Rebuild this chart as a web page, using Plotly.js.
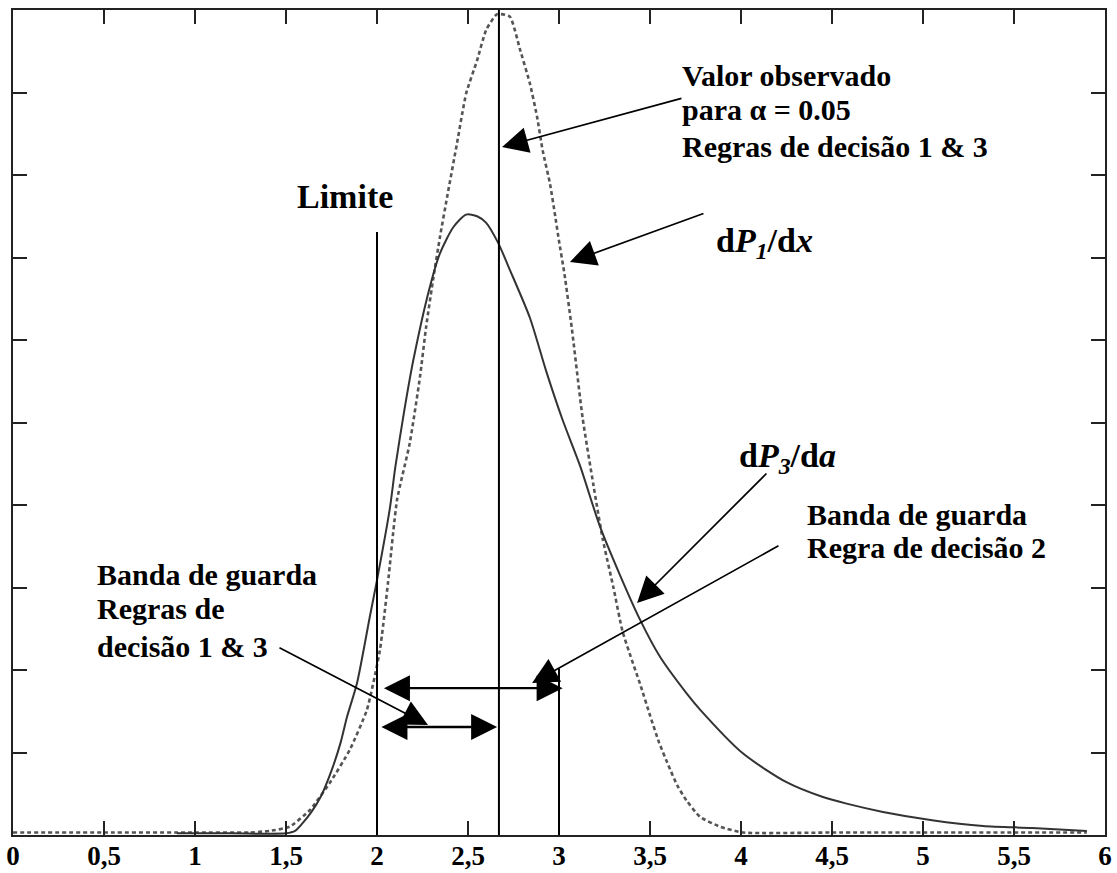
<!DOCTYPE html>
<html>
<head>
<meta charset="utf-8">
<script src="https://cdn.plot.ly/plotly-3.0.1.min.js"></script>
<style>html,body{margin:0;padding:0;background:#fff;}#chart{width:1117px;height:873px;}</style>
</head>
<body>
<div id="chart"></div>
<script>
// ---- data ----
const xTickVals = [0, 0.5, 1, 1.5, 2, 2.5, 3, 3.5, 4, 4.5, 5, 5.5, 6];
const xTickText = ['0', '0,5', '1', '1,5', '2', '2,5', '3', '3,5', '4', '4,5', '5', '5,5', '6'];

// dP3/da (solid curve)
const xSolid = [0.9, 1.2, 1.5, 1.55, 1.59, 1.64, 1.69, 1.75, 1.80, 1.835, 1.89, 1.96, 2.0, 2.07, 2.10, 2.148, 2.20, 2.29, 2.346, 2.42, 2.49, 2.55, 2.60, 2.665, 2.73, 2.84, 2.93, 3.02, 3.115, 3.225, 3.335, 3.445, 3.555, 3.70, 3.775, 4.01, 4.25, 4.45, 4.58, 4.78, 5.05, 5.33, 5.60, 5.90];
const ySolid = [0.02, 0.02, 0.02, 0.05, 0.14, 0.28, 0.46, 0.78, 1.12, 1.43, 1.84, 2.64, 3.09, 3.95, 4.45, 5.12, 5.76, 6.64, 7.05, 7.37, 7.52, 7.50, 7.42, 7.18, 6.85, 6.27, 5.62, 5.03, 4.48, 3.74, 3.15, 2.61, 2.16, 1.72, 1.52, 0.99, 0.64, 0.46, 0.38, 0.28, 0.18, 0.11, 0.085, 0.05];

// dP1/dx (dashed curve)
const xDash = [0, 0.5, 1.0, 1.3, 1.41, 1.52, 1.63, 1.74, 1.85, 1.945, 2.016, 2.06, 2.11, 2.18, 2.236, 2.27, 2.31, 2.346, 2.385, 2.44, 2.49, 2.55, 2.60, 2.66, 2.73, 2.786, 2.84, 2.88, 2.91, 2.95, 2.98, 3.0, 3.03, 3.07, 3.13, 3.19, 3.24, 3.30, 3.35, 3.45, 3.5, 3.55, 3.6, 3.65, 3.7, 3.775, 3.885, 4.01, 4.5, 5.0, 5.5, 5.9];
const yDash = [0.03, 0.03, 0.03, 0.03, 0.05, 0.10, 0.30, 0.63, 1.03, 1.52, 2.24, 3.05, 4.06, 4.75, 5.55, 6.16, 6.76, 7.25, 7.73, 8.39, 8.99, 9.39, 9.76, 9.95, 9.92, 9.52, 9.11, 8.70, 8.30, 7.90, 7.49, 7.20, 6.80, 6.15, 5.05, 4.23, 3.59, 2.99, 2.46, 1.8, 1.45, 1.12, 0.85, 0.6, 0.42, 0.22, 0.10, 0.03, 0.03, 0.03, 0.03, 0.03];

// reference lines
const limitX = 2, limitTop = 7.31;
const observedX = 2.67, observedTop = 10;
const band2X = 3, band2Top = 2.02;
// guard band double arrows [xStart, xEnd, y]
const bandRule2 = [2.03, 3.02, 1.78];
const bandRule13 = [2.016, 2.66, 1.31];

// ---- chart ----
const serif = 'Liberation Serif, Times New Roman, serif';
const txtFont = {family: serif, size: 30, color: '#000', weight: 'bold'};

const traces = [
  {x: xDash, y: yDash, mode: 'lines', line: {color: '#555', width: 2.6, dash: '4px,3px', shape: 'spline', smoothing: 0.5}, hoverinfo: 'skip'},
  {x: xSolid, y: ySolid, mode: 'lines', line: {color: '#333', width: 2, shape: 'spline', smoothing: 0.7}, hoverinfo: 'skip'}
];

const shapes = [
  {type: 'line', xref: 'x', yref: 'y', x0: limitX, x1: limitX, y0: 0, y1: limitTop, line: {color: '#000', width: 2}},
  {type: 'line', xref: 'x', yref: 'y', x0: observedX, x1: observedX, y0: 0, y1: observedTop, line: {color: '#000', width: 2}},
  {type: 'line', xref: 'x', yref: 'y', x0: band2X, x1: band2X, y0: 0, y1: band2Top, line: {color: '#000', width: 2}}
];

function label(text, x, y, size, anchor) {
  return {text: text, x: x, y: y, xref: 'x', yref: 'y', showarrow: false,
          xanchor: anchor || 'left', yanchor: 'middle',
          font: Object.assign({}, txtFont, size ? {size: size} : {})};
}
function arrow(tx, ty, hx, hy, w, both) {
  return {text: '', x: hx, y: hy, ax: tx, ay: ty, xref: 'x', yref: 'y', axref: 'x', ayref: 'y',
          showarrow: true, arrowhead: 2, startarrowhead: 2, arrowsize: 5.2 / w, startarrowsize: 5.2 / w,
          arrowwidth: w, arrowcolor: '#000', arrowside: both ? 'end+start' : 'end', standoff: 0, startstandoff: 0};
}

const annotations = [
  label('<b>Limite</b>', 1.824, 7.745, 34, 'center'),
  label('<b>Valor observado</b>', 3.665, 9.21),
  label('<b>para α = 0.05</b>', 3.665, 8.79),
  label('<b>Regras de decisão 1 &amp; 3</b>', 3.665, 8.35),
  label('<b>d<i>P</i><sub><i>1</i></sub>/d<i>x</i></b>', 3.85, 7.18, 34),
  label('<b>d<i>P</i><sub><i>3</i></sub>/d<i>a</i></b>', 3.98, 4.57, 34),
  label('<b>Banda de guarda</b>', 4.35, 3.89),
  label('<b>Regra de decisão 2</b>', 4.35, 3.48),
  label('<b>Banda de guarda</b>', 0.45, 3.16),
  label('<b>Regras de</b>', 0.45, 2.74),
  label('<b>decisão 1 &amp; 3</b>', 0.45, 2.28),
  arrow(3.681, 8.933, 2.687, 8.339, 1.7),
  arrow(3.802, 7.539, 3.060, 6.945, 1.7),
  arrow(4.148, 4.40, 3.429, 2.812, 1.7),
  arrow(4.214, 3.515, 2.852, 1.842, 1.7),
  arrow(1.456, 2.279, 2.280, 1.333, 1.7),
  arrow(bandRule2[0], bandRule2[2], bandRule2[1], bandRule2[2], 2.4, true),
  arrow(bandRule13[0], bandRule13[2], bandRule13[1], bandRule13[2], 2.4, true)
];

const axisCommon = {showgrid: false, zeroline: false, showline: true, linecolor: '#222', linewidth: 2,
                    mirror: 'allticks', ticks: 'inside', ticklen: 14, tickwidth: 2, tickcolor: '#222'};

const layout = {
  width: 1117, height: 873,
  margin: {l: 13, r: 12, t: 10, b: 38, pad: 0},
  paper_bgcolor: '#fff', plot_bgcolor: '#fff',
  showlegend: false,
  xaxis: Object.assign({}, axisCommon, {range: [0, 6], tickmode: 'array', tickvals: xTickVals,
    ticktext: xTickText.map(t => '<b>' + t + '</b>'), ticklabelstandoff: -4,
    tickfont: {family: serif, size: 27, color: '#000', weight: 'bold'}}),
  yaxis: Object.assign({}, axisCommon, {range: [0, 10], tick0: 0, dtick: 1, showticklabels: false}),
  shapes: shapes,
  annotations: annotations
};

Plotly.newPlot('chart', traces, layout, {displayModeBar: false, staticPlot: true});
</script>
</body>
</html>
